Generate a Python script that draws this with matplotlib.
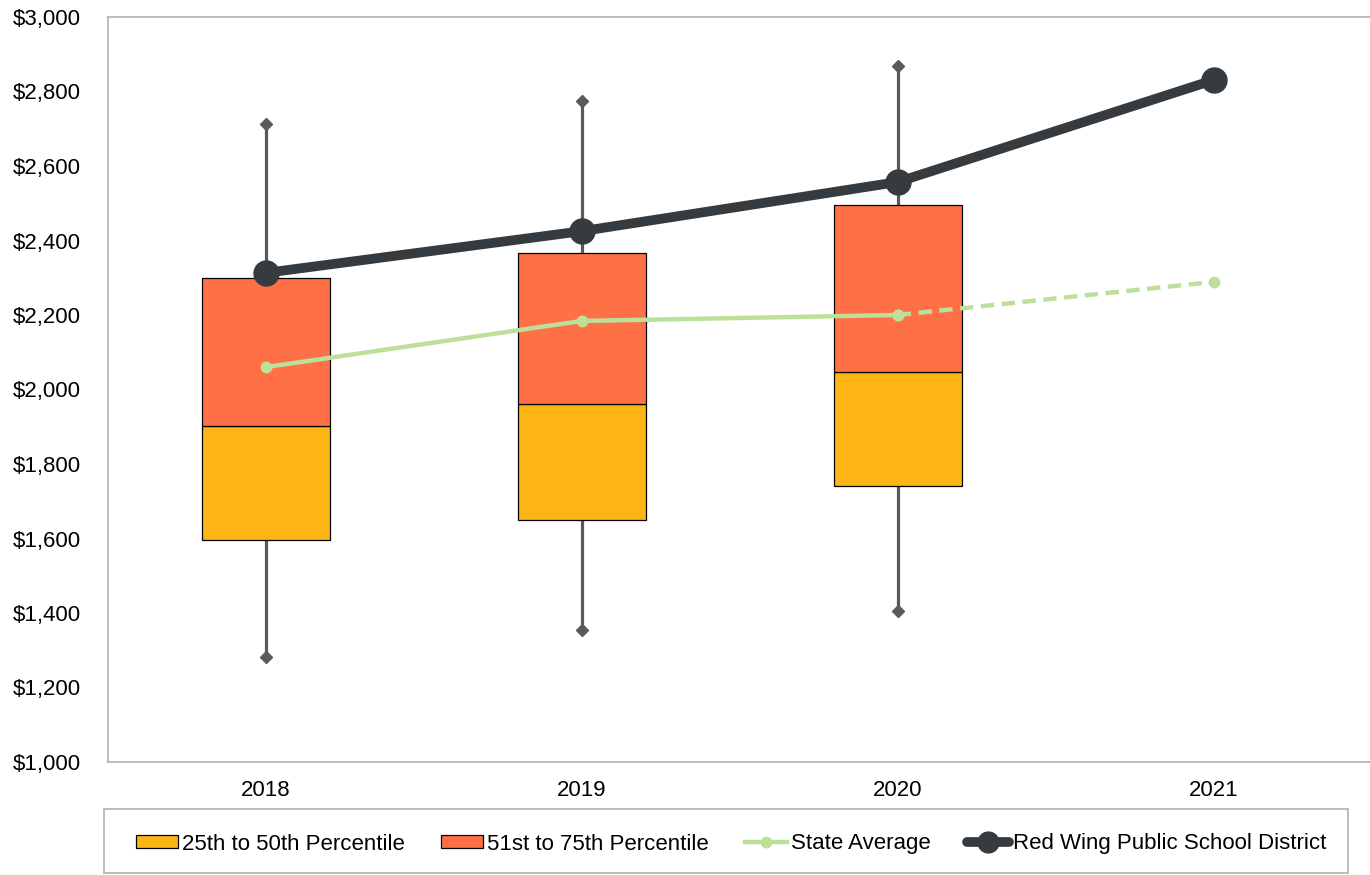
import matplotlib
matplotlib.use("Agg")
import matplotlib.pyplot as plt
from matplotlib.patches import Patch, Rectangle
from matplotlib.lines import Line2D
from matplotlib.ticker import FuncFormatter

plt.rcParams['font.family'] = ['Liberation Sans', 'DejaVu Sans']

years = ["2018", "2019", "2020", "2021"]
box_years = ["2018", "2019", "2020"]
whisker_min = [1282, 1354, 1405]
p25 = [1596, 1650, 1741]
p50 = [1902, 1961, 2047]
p75 = [2299, 2366, 2495]
whisker_max = [2713, 2774, 2868]
state_avg = [2060, 2184, 2200, 2289]
district = [2313, 2425, 2557, 2831]

c_yellow = "#FDB515"
c_orange = "#FF7046"
c_green = "#BCE09A"
c_dark = "#363B3F"
c_whisk = "#5A5A5A"

fig = plt.figure(figsize=(13.7, 8.75), dpi=100)
ax = fig.add_axes([107.5/1370, 1-762/875, (1372-107.5)/1370, (762-17)/875])

xb = list(range(len(box_years)))
for i in xb:
    ax.plot([i, i], [whisker_min[i], whisker_max[i]], color=c_whisk, lw=2.3,
            marker='D', markersize=6.5, zorder=1)
w = 0.405
ax.bar(xb, [b - a for a, b in zip(p25, p50)], bottom=p25, width=w,
       color=c_yellow, edgecolor='black', linewidth=0.9, zorder=2)
ax.bar(xb, [b - a for a, b in zip(p50, p75)], bottom=p50, width=w,
       color=c_orange, edgecolor='black', linewidth=0.9, zorder=2)

xs = list(range(len(years)))
ax.plot(xs[:3], state_avg[:3], color=c_green, lw=3.2, marker='o', markersize=7.5, zorder=3)
ax.plot(xs[2:], state_avg[2:], color=c_green, lw=3.2, ls=(0, (3, 1.7)), marker='o',
        markersize=7.5, zorder=3)
ax.plot(xs, district, color=c_dark, lw=7, marker='o', markersize=18, zorder=4,
        solid_capstyle='round')

ax.set_xlim(-0.5, 3.5)
ax.set_ylim(1000, 3000)
ax.set_yticks(range(1000, 3001, 200))
ax.yaxis.set_major_formatter(FuncFormatter(lambda v, p: f"${int(v):,}"))
ax.set_xticks(xs)
ax.set_xticklabels(years)
ax.tick_params(axis='both', length=0, labelsize=16, colors='black')
ax.tick_params(axis='y', pad=19)
ax.tick_params(axis='x', pad=13)
for s in ax.spines.values():
    s.set_color('#B0B0B0')
    s.set_linewidth(1.2)

# legend frame
fig.add_artist(Rectangle((104/1370, 1-873/875), (1348-104)/1370, 64/875,
                         transform=fig.transFigure, facecolor='none',
                         edgecolor='#B0B0B0', linewidth=1.2))

handles = [
    Patch(facecolor=c_yellow, edgecolor='black', linewidth=0.9),
    Patch(facecolor=c_orange, edgecolor='black', linewidth=0.9),
    Line2D([], [], color=c_green, lw=3.2, marker='o', markersize=7.5),
    Line2D([], [], color=c_dark, lw=7, marker='o', markersize=15,
           solid_capstyle='round'),
]
labels = ["25th to 50th Percentile", "51st to 75th Percentile", "State Average",
          "Red Wing Public School District"]
leg = fig.legend(handles, labels, loc='center', ncol=4,
                 bbox_to_anchor=(136/1370, 1-876/875, (1326-136)/1370, 64/875),
                 mode='expand', fontsize=16, frameon=False,
                 borderpad=0, handlelength=1.9, handleheight=0.55,
                 handletextpad=0.15, borderaxespad=0)

fig.savefig("out.png", dpi=100)
